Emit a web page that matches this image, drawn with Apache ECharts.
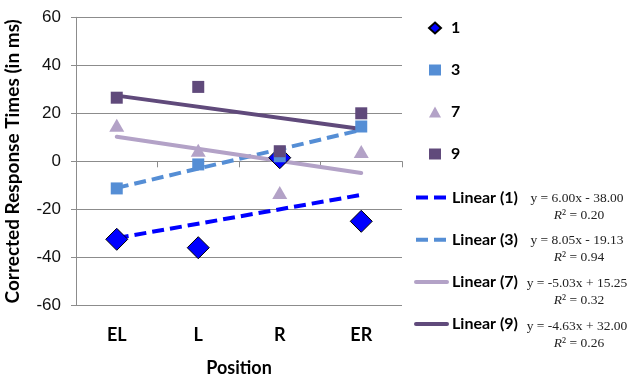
<!DOCTYPE html>
<html>
<head>
<meta charset="utf-8">
<script src="https://cdn.jsdelivr.net/npm/echarts@6/dist/echarts.min.js"></script>
<style>
  html, body { margin: 0; padding: 0; background: #ffffff; }
  #chart { width: 628px; height: 378px; }
</style>
</head>
<body>
<div id="chart"></div>
<script>
// Positions along the x axis
const positions = ['EL', 'L', 'R', 'ER'];

// Corrected response times (ms) per group
const group1 = [-32.5, -36, 1.5, -25];
const group3 = [-11.3, -1.3, 2.1, 14.5];
const group7 = [15, 4.6, -13, 4.1];
const group9 = [26.5, 31, 4.2, 20];

const groupNames = ['1', '3', '7', '9'];

// Linear trend fits: y = slope * x + intercept, x = 1..4
const trendSlopes = [6.00, 8.05, -5.03, -4.63];
const trendIntercepts = [-38.00, -19.13, 15.25, 32.00];
const trendR2 = ['0.20', '0.94', '0.32', '0.26'];

// Value axis ticks
const yMin = -60, yMax = 60, yStep = 20;

const colors = ['#0000FF', '#558ED5', '#B3A2C7', '#604A7B'];
const groups = [group1, group3, group7, group9];
const symbols = ['diamond', 'rect', 'triangle', 'rect'];
const symbolSizes = [22, 12, [15, 13], 12];
const trendDash = [[12, 6], [12, 6], 'solid', 'solid'];

const gridTop = 17.3, gridBottom = 72.7, chartH = 378;

const chart = echarts.init(document.getElementById('chart'), null, { renderer: 'canvas' });

const scatterSeries = groups.map((vals, i) => ({
  name: groupNames[i],
  type: 'scatter',
  z: 3,
  data: vals.map((v, j) => [positions[j], v]),
  symbol: symbols[i],
  symbolSize: symbolSizes[i],
  itemStyle: {
    color: colors[i],
    borderColor: i === 0 ? '#000000' : colors[i],
    borderWidth: i === 0 ? 1 : 0,
    opacity: 1
  }
}));

const trendSeries = trendSlopes.map((m, i) => {
  const b = trendIntercepts[i];
  return {
    name: 'Linear (' + groupNames[i] + ')',
    type: 'line',
    z: 2,
    symbol: 'none',
    silent: true,
    data: [[positions[0], m * 1 + b], [positions[3], m * 4 + b]],
    lineStyle: { color: colors[i], width: 4, type: trendDash[i], cap: i < 2 ? 'butt' : 'round' },
    itemStyle: { color: colors[i] }
  };
});

function fmt(n) { return n.toFixed(2); }
function equation(i) {
  const m = trendSlopes[i], b = trendIntercepts[i];
  return 'y = ' + fmt(m) + 'x ' + (b < 0 ? '- ' : '+ ') + fmt(Math.abs(b));
}

const eqRowTop = 198, eqRowStep = 42.7;
const eqGraphics = [];
trendSlopes.forEach((m, i) => {
  const y0 = eqRowTop + i * eqRowStep;
  eqGraphics.push({
    type: 'text', x: 577, y: y0,
    style: {
      text: equation(i), x: 0, y: 0, align: 'center', verticalAlign: 'middle',
      font: '13.5px "Liberation Serif"', fill: '#222222'
    }
  });
  eqGraphics.push({
    type: 'text', x: 579, y: y0 + 17,
    style: {
      text: '{i|R}² = ' + trendR2[i], x: 0, y: 0, align: 'center', verticalAlign: 'middle',
      font: '13.5px "Liberation Serif"', fill: '#222222',
      rich: { i: { fontStyle: 'italic', fontFamily: 'Liberation Serif', fontSize: 13.5, fill: '#222222' } }
    }
  });
});

// distance from the bottom edge of the plot up to the zero line
const plotH = chartH - gridTop - gridBottom;
const zeroOffset = -plotH * (0 - yMin) / (yMax - yMin);

const option = {
  backgroundColor: '#ffffff',
  animation: false,
  grid: { left: 76, right: 226, top: gridTop, bottom: gridBottom, outerBoundsMode: 'none', containLabel: false },
  legend: [
    {
      data: groupNames,
      orient: 'vertical',
      left: 423, top: 15,
      itemWidth: 12, itemHeight: 11, itemGap: 26,
      textStyle: { fontFamily: 'Lato', fontWeight: 'bold', fontSize: 16, color: '#000', padding: [0, 0, 0, 5] },
      selectedMode: false
    },
    {
      data: trendSeries.map(s => s.name),
      orient: 'vertical',
      left: 409, top: 184.5,
      itemWidth: 31, itemHeight: 14, itemGap: 26.2,
      itemStyle: { opacity: 0 },
      lineStyle: { width: 4 },
      textStyle: { fontFamily: 'Lato', fontWeight: 'bold', fontSize: 16, color: '#000', padding: [0, 0, 0, 0] },
      selectedMode: false
    }
  ],
  xAxis: [
    {
      type: 'category',
      data: positions,
      position: 'bottom',
      boundaryGap: true,
      name: 'Position',
      nameLocation: 'middle',
      nameGap: 54,
      nameTextStyle: { fontFamily: 'Lato', fontWeight: 'bold', fontSize: 18, color: '#000' },
      axisLine: { show: false, onZero: false },
      axisTick: { show: false },
      axisLabel: { margin: 21, fontFamily: 'Lato', fontWeight: 'bold', fontSize: 18, color: '#000' },
      splitLine: { show: false }
    },
    {
      // category ticks drawn along the zero line
      type: 'category',
      data: positions,
      position: 'bottom',
      offset: zeroOffset,
      boundaryGap: true,
      axisLine: { show: true, onZero: false, lineStyle: { color: '#8c8c8c', width: 1 } },
      axisTick: { show: true, length: 6, lineStyle: { color: '#8c8c8c' } },
      axisLabel: { show: false },
      splitLine: { show: false }
    }
  ],
  yAxis: {
    type: 'value',
    min: yMin, max: yMax, interval: yStep,
    name: 'Corrected Response Times (in ms)',
    nameLocation: 'middle',
    nameGap: 54,
    nameRotate: 90,
    nameTextStyle: { fontFamily: 'Lato', fontWeight: 'bold', fontSize: 19, color: '#000' },
    axisLine: { show: true, lineStyle: { color: '#8c8c8c', width: 1 } },
    axisTick: { show: true, length: 5, lineStyle: { color: '#8c8c8c' } },
    axisLabel: { margin: 15, fontFamily: 'Liberation Sans', fontSize: 17, color: '#111' },
    splitLine: { show: true, lineStyle: { color: '#8c8c8c', width: 1 } }
  },
  graphic: eqGraphics,
  series: scatterSeries.concat(trendSeries)
};

chart.setOption(option);
</script>
</body>
</html>
